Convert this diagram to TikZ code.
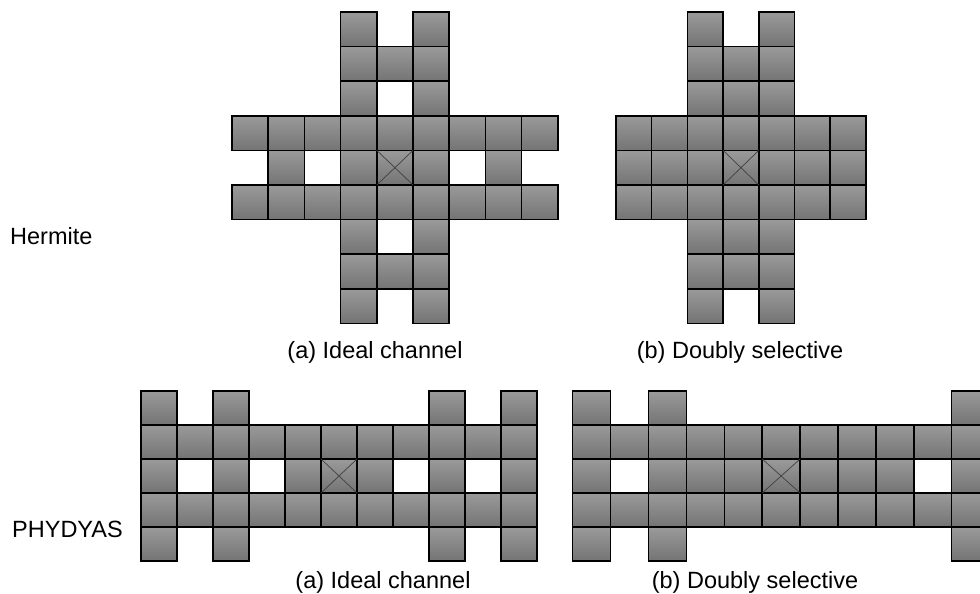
\documentclass[tikz,border=0pt]{standalone}
\usepackage{fontspec}
\setmainfont{Liberation Sans}
\usetikzlibrary{positioning}

\definecolor{celltop}{HTML}{9A9A9A}
\definecolor{cellbot}{HTML}{747474}

\begin{document}
\begin{tikzpicture}[
    x=1pt, y=-1pt,
    cell/.style={draw=black, line width=1.5pt, top color=celltop, bottom color=cellbot},
    cross/.style={draw=black!75, line width=0.7pt},
    lbl/.style={text=black, inner sep=0pt, font=\fontsize{23.5}{28}\selectfont}
]
\useasboundingbox (0,0) rectangle (980,594);

% ---------- Hermite, ideal channel ----------
\begin{scope}[shift={(232,12)}, x=36.2pt, y=-34.6pt]
\foreach \c/\r in {3/0,5/0, 3/1,4/1,5/1, 3/2,5/2,
                   0/3,1/3,2/3,3/3,4/3,5/3,6/3,7/3,8/3,
                   1/4,3/4,4/4,5/4,7/4,
                   0/5,1/5,2/5,3/5,4/5,5/5,6/5,7/5,8/5,
                   3/6,5/6, 3/7,4/7,5/7, 3/8,5/8}
    \draw[cell] (\c,\r) rectangle ++(1,1);
\draw[cross] (4,4) -- (5,5) (5,4) -- (4,5);
\end{scope}

% ---------- Hermite, doubly selective ----------
\begin{scope}[shift={(616,12)}, x=35.7pt, y=-34.6pt]
\foreach \c/\r in {2/0,4/0, 2/1,3/1,4/1, 2/2,3/2,4/2,
                   2/6,3/6,4/6, 2/7,3/7,4/7, 2/8,4/8}
    \draw[cell] (\c,\r) rectangle ++(1,1);
\foreach \r in {3,4,5}
    \foreach \c in {0,...,6}
        \draw[cell] (\c,\r) rectangle ++(1,1);
\draw[cross] (3,4) -- (4,5) (4,4) -- (3,5);
\end{scope}

% ---------- PHYDYAS, ideal channel ----------
\begin{scope}[shift={(141,391)}, x=36pt, y=-34pt]
\foreach \c in {0,2,8,10} {
    \draw[cell] (\c,0) rectangle ++(1,1);
    \draw[cell] (\c,4) rectangle ++(1,1);
}
\foreach \c in {0,...,10} {
    \draw[cell] (\c,1) rectangle ++(1,1);
    \draw[cell] (\c,3) rectangle ++(1,1);
}
\foreach \c in {0,2,4,5,6,8,10}
    \draw[cell] (\c,2) rectangle ++(1,1);
\draw[cross] (5,2) -- (6,3) (6,2) -- (5,3);
\end{scope}

% ---------- PHYDYAS, doubly selective ----------
\begin{scope}[shift={(572.7,391)}, x=37.9pt, y=-34pt]
\foreach \c in {0,2,10} {
    \draw[cell] (\c,0) rectangle ++(1,1);
    \draw[cell] (\c,4) rectangle ++(1,1);
}
\foreach \c in {0,...,10} {
    \draw[cell] (\c,1) rectangle ++(1,1);
    \draw[cell] (\c,3) rectangle ++(1,1);
}
\foreach \c in {0,2,3,4,5,6,7,8,10}
    \draw[cell] (\c,2) rectangle ++(1,1);
\draw[cross] (5,2) -- (6,3) (6,2) -- (5,3);
\end{scope}

% ---------- Labels ----------
\node[lbl, anchor=west] (hermite) at (10,236) {Hermite};
\node[lbl, anchor=west] (phydyas) at (12,529) {PHYDYAS};

\node[lbl] (capHa) at (375,352) {(a) Ideal channel};
\node[lbl] (capHb) at (740,352) {(b) Doubly selective};
\node[lbl] (capPa) at (383,582) {(a) Ideal channel};
\node[lbl] (capPb) at (755,582) {(b) Doubly selective};

\end{tikzpicture}
\end{document}
